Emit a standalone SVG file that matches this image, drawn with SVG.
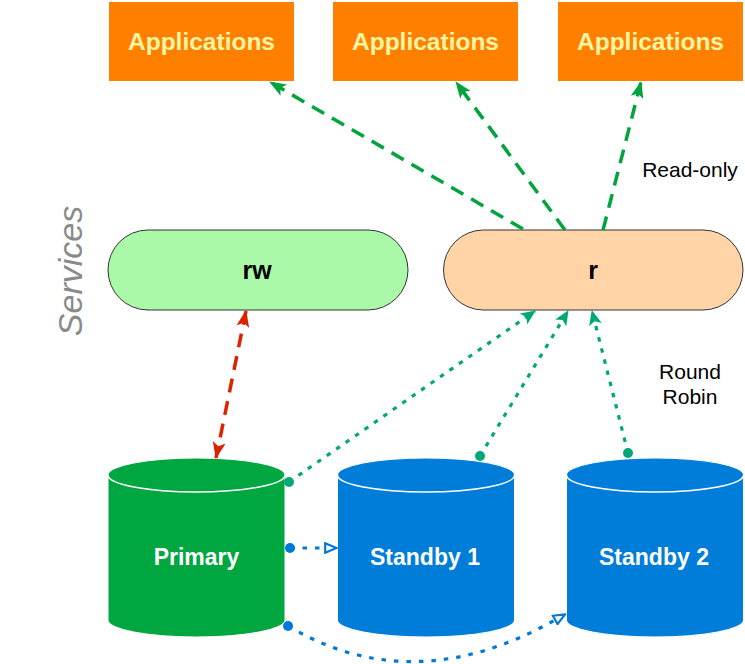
<svg xmlns="http://www.w3.org/2000/svg" width="745" height="664" viewBox="0 0 745 664">
<style>
.app{fill:#FF8000;}
.appt{font-family:"Liberation Sans",Arial,sans-serif;font-weight:bold;font-size:24.5px;fill:#FFF5A0;text-anchor:middle;}
.pill{stroke:#333333;stroke-width:1;}
.pt{font-family:"Liberation Sans",Arial,sans-serif;font-weight:bold;font-size:25px;fill:#000;text-anchor:middle;}
.cyl{stroke:#FFFFFF;stroke-width:1;}
.cylline{fill:none;stroke:#FFFFFF;stroke-width:1.5;}
.ct{font-family:"Liberation Sans",Arial,sans-serif;font-weight:bold;font-size:23px;fill:#FFFFFF;text-anchor:middle;}
.lbl{font-family:"Liberation Sans",Arial,sans-serif;font-size:21px;fill:#000;text-anchor:middle;}
.svc{font-family:"Liberation Sans",Arial,sans-serif;font-style:italic;font-size:34px;fill:#8A8A8A;text-anchor:middle;}
.g{fill:none;stroke:#00A33C;stroke-width:3.5;stroke-dasharray:14 9;}
.red{fill:none;stroke:#DD2200;stroke-width:3.5;stroke-dasharray:14 9;}
.t{fill:none;stroke:#00A878;stroke-width:3.2;stroke-dasharray:4.5 7;}
.b{fill:none;stroke:#0078D7;stroke-width:3.2;stroke-dasharray:4.5 8;}
</style>
<defs>
<marker id="ag" markerUnits="userSpaceOnUse" markerWidth="17" markerHeight="13" viewBox="0 0 17 13" refX="16" refY="6.5" orient="auto"><path d="M0,0 L17,6.5 L0,13 L4,6.5 Z" fill="#00A33C"/></marker>
<marker id="ar" markerUnits="userSpaceOnUse" markerWidth="17" markerHeight="13" viewBox="0 0 17 13" refX="16" refY="6.5" orient="auto-start-reverse"><path d="M0,0 L17,6.5 L0,13 L4,6.5 Z" fill="#DD2200"/></marker>
<marker id="at" markerUnits="userSpaceOnUse" markerWidth="15" markerHeight="13" viewBox="0 0 15 13" refX="14" refY="6.5" orient="auto"><path d="M0,0 L15,6.5 L0,13 L3.5,6.5 Z" fill="#00A878"/></marker>
<marker id="dt" markerUnits="userSpaceOnUse" markerWidth="11" markerHeight="11" viewBox="0 0 11 11" refX="5.5" refY="5.5"><circle cx="5.5" cy="5.5" r="5" fill="#00A878"/></marker>
<marker id="db" markerUnits="userSpaceOnUse" markerWidth="11" markerHeight="11" viewBox="0 0 11 11" refX="5.5" refY="5.5"><circle cx="5.5" cy="5.5" r="5" fill="#0078D7"/></marker>
<marker id="ab" markerUnits="userSpaceOnUse" markerWidth="14" markerHeight="12" viewBox="0 0 14 12" refX="1" refY="6" orient="auto"><path d="M1.2,1.2 L12.5,6 L1.2,10.8 Z" fill="#FFFFFF" stroke="#0078D7" stroke-width="2.2"/></marker>
</defs>

<g id="app1"><rect class="app" x="109" y="2" width="185" height="79"/><text class="appt" x="201.5" y="49.5">Applications</text></g>
<g id="app2"><rect class="app" x="333" y="2" width="185" height="79"/><text class="appt" x="425.5" y="49.5">Applications</text></g>
<g id="app3"><rect class="app" x="558" y="2" width="185" height="79"/><text class="appt" x="650.5" y="49.5">Applications</text></g>

<g id="services-label"><text class="svc" transform="translate(82,271) rotate(-90)">Services</text></g>

<g id="rw"><rect class="pill" x="108" y="230" width="300" height="80" rx="40" fill="#A9F9A8"/><text class="pt" x="257" y="279">rw</text></g>
<g id="r"><rect class="pill" x="443.5" y="230" width="299.5" height="80" rx="40" fill="#FFD5A8"/><text class="pt" x="593" y="279">r</text></g>

<g id="primary"><path class="cyl" fill="#00A63F" d="M108,475 A88.5,17 0 0 1 285,475 L285,620 A88.5,17 0 0 1 108,620 Z"/><path class="cylline" d="M108,475 A88.5,17 0 0 0 285,475"/><text class="ct" x="196.5" y="565">Primary</text></g>
<g id="standby1"><path class="cyl" fill="#007DD9" d="M337.5,475 A88.5,17 0 0 1 514.5,475 L514.5,620 A88.5,17 0 0 1 337.5,620 Z"/><path class="cylline" d="M337.5,475 A88.5,17 0 0 0 514.5,475"/><text class="ct" x="425" y="565">Standby 1</text></g>
<g id="standby2"><path class="cyl" fill="#007DD9" d="M566.5,475 A88.5,17 0 0 1 743.5,475 L743.5,620 A88.5,17 0 0 1 566.5,620 Z"/><path class="cylline" d="M566.5,475 A88.5,17 0 0 0 743.5,475"/><text class="ct" x="654" y="565">Standby 2</text></g>

<g id="labels">
<text class="lbl" x="690" y="177">Read-only</text>
<text class="lbl" x="690" y="379">Round</text>
<text class="lbl" x="690" y="404">Robin</text>
</g>

<g id="connectors">
<path class="g" d="M523,229 L270,82" marker-end="url(#ag)"/>
<path class="g" d="M565,230 L456,82" marker-end="url(#ag)"/>
<path class="g" d="M603,230 L641,82" marker-end="url(#ag)"/>
<path class="red" d="M246,311 L216,458" marker-start="url(#ar)" marker-end="url(#ar)"/>
<path class="t" d="M289,482 L535,311" marker-start="url(#dt)" marker-end="url(#at)"/>
<path class="t" d="M480,456 L568,311" marker-start="url(#dt)" marker-end="url(#at)"/>
<path class="t" d="M628,453 L592,311" marker-start="url(#dt)" marker-end="url(#at)"/>
<path class="b" d="M290,548 L325,548" marker-start="url(#db)" marker-end="url(#ab)"/>
<path class="b" d="M288,626 Q413,700 555,620" marker-start="url(#db)" marker-end="url(#ab)"/>
</g>
</svg>
